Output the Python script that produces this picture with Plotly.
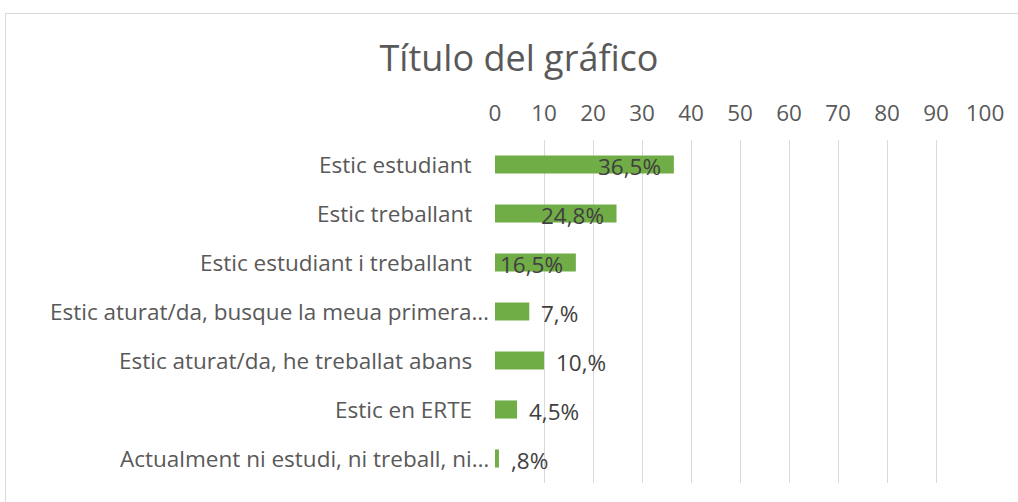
import plotly.graph_objects as go

categories = [
    "Estic estudiant",
    "Estic treballant",
    "Estic estudiant i treballant",
    "Estic aturat/da, busque la meua primera…",
    "Estic aturat/da, he treballat abans",
    "Estic en ERTE",
    "Actualment ni estudi, ni treball, ni…",
]
values = [36.5, 24.8, 16.5, 7.0, 10.0, 4.5, 0.8]
value_labels = ["36,5%", "24,8%", "16,5%", "7,%", "10,%", "4,5%", ",8%"]
label_inside = [True, True, True, False, False, False, False]
x_ticks = [0, 10, 20, 30, 40, 50, 60, 70, 80, 90, 100]

FONT = "Open Sans"
W, H = 1018, 502
ml, mr, mt, mb = 495, 33, 140, 19

fig = go.Figure()
fig.add_trace(go.Bar(
    y=categories, x=values, orientation="h",
    marker=dict(color="#70AD47", line=dict(width=0)),
    width=0.37, hoverinfo="skip",
))

for c in categories:
    trunc = c.endswith("…")
    fig.add_annotation(
        x=0, xref="paper", y=c, yref="y", text=c, showarrow=False,
        xanchor="right", xshift=-4 if trunc else -21,
        font=dict(family=FONT, size=22.5, color="#595959"),
    )

for c, v, t, ins in zip(categories, values, value_labels, label_inside):
    fig.add_annotation(
        x=v, xref="x", y=c, yref="y", text=t, showarrow=False,
        xanchor="right" if ins else "left", xshift=-11 if ins else 10, yshift=-2,
        font=dict(family=FONT, size=22.5, color="#404040"),
    )

pw = W - ml - mr
ph = H - mt - mb
fig.add_shape(type="rect", xref="paper", yref="paper",
              x0=(5.5 - ml) / pw, x1=(W + 20 - ml) / pw,
              y0=(H - mb - (H + 20)) / ph, y1=(H - mb - 13.5) / ph,
              line=dict(color="#d9d9d9", width=1), fillcolor="rgba(0,0,0,0)", layer="below")

fig.update_layout(
    width=W, height=H,
    margin=dict(l=ml, r=mr, t=mt, b=mb),
    paper_bgcolor="white", plot_bgcolor="white",
    showlegend=False,
    title=dict(text="Título del gráfico", x=519 / W, xref="container", xanchor="center",
               y=(H - 58) / H, yref="container", yanchor="middle",
               font=dict(family=FONT, size=36, color="#595959")),
    xaxis=dict(side="top", range=[0, 100], tickvals=x_ticks, showgrid=True,
               gridcolor="#d9d9d9", gridwidth=1, zeroline=False, showline=False,
               ticks="", tickfont=dict(family=FONT, size=22.5, color="#595959"),
               ticklabelstandoff=14, fixedrange=True),
    yaxis=dict(autorange="reversed", showticklabels=False, showgrid=False,
               zeroline=False, showline=False, ticks="", fixedrange=True),
)

fig.write_html("out.html", config={"displayModeBar": False},
               post_script="document.body.style.margin='0';document.body.style.overflow='hidden';")
